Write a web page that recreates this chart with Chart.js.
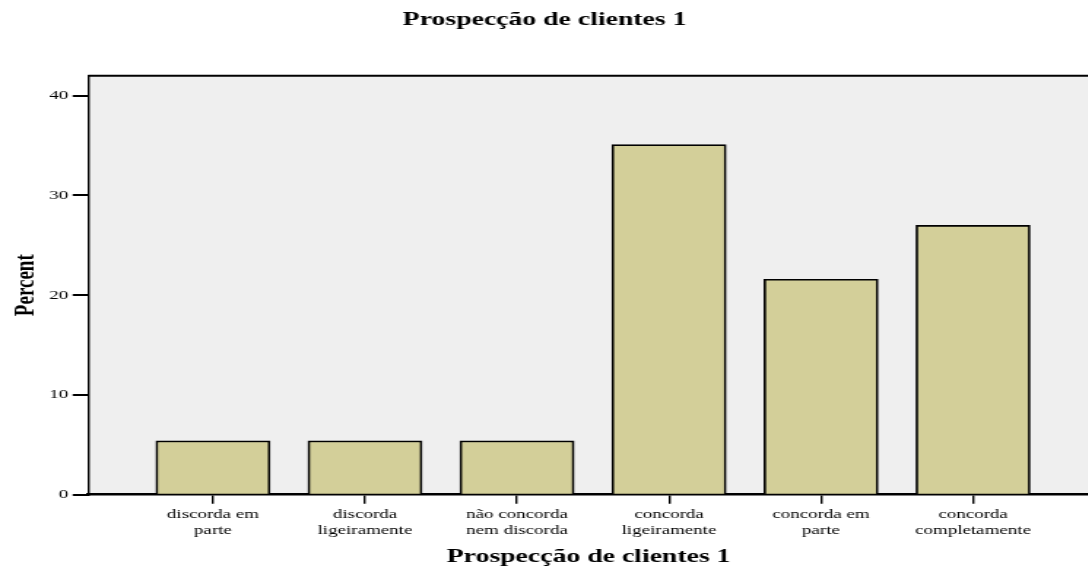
<!DOCTYPE html>
<html>
<head>
<meta charset="utf-8">
<title>Prospecção de clientes 1</title>
<script src="https://cdn.jsdelivr.net/npm/chart.js@4"></script>
<style>
  html, body { margin: 0; padding: 0; background: #fff; overflow: hidden; }
  /* the original picture is stretched sideways, so the canvas is too */
  #myChart { display: block; transform: scaleX(1.46); transform-origin: 0 0; }
</style>
</head>
<body>
<canvas id="myChart" width="746" height="567"></canvas>
<script>
const chartTitle = 'Prospecção de clientes 1';
const axisTitleX = 'Prospecção de clientes 1';
const axisTitleY = 'Percent';
const categories = [
  ['discorda em', 'parte'],
  ['discorda', 'ligeiramente'],
  ['não concorda', 'nem discorda'],
  ['concorda', 'ligeiramente'],
  ['concorda em', 'parte'],
  ['concorda', 'completamente']
];
const percentValues = [5.4, 5.4, 5.4, 35.1, 21.6, 27.0];
const yTicks = [0, 10, 20, 30, 40];

const STRETCH = 1.46; // горизонтальное растяжение картинки

// серый фон области графика и верхняя рамка
const plotFrame = {
  id: 'plotFrame',
  beforeDraw(chart) {
    const { ctx, chartArea: a } = chart;
    ctx.save();
    ctx.fillStyle = '#efefef';
    ctx.fillRect(a.left, a.top, a.right - a.left, a.bottom - a.top);
    ctx.restore();
  },
  afterDraw(chart) {
    const { ctx, chartArea: a } = chart;
    ctx.save();
    ctx.strokeStyle = '#000';
    ctx.lineWidth = 2;
    ctx.beginPath();
    ctx.moveTo(a.left, a.top);
    ctx.lineTo(a.right, a.top);
    ctx.stroke();
    ctx.restore();
  }
};

Chart.defaults.font.family = "'Liberation Serif', 'Times New Roman', serif";
Chart.defaults.color = '#000';

const ctx = document.getElementById('myChart').getContext('2d');
new Chart(ctx, {
  type: 'bar',
  data: {
    datasets: [{
      label: axisTitleY,
      data: percentValues.map((v, i) => ({ x: i, y: v })),
      backgroundColor: '#d3cf99',
      borderColor: '#000',
      borderWidth: 1.7,
      barThickness: 114 / STRETCH
    }]
  },
  options: {
    responsive: false,
    animation: false,
    devicePixelRatio: 1,
    layout: { padding: 0 },
    plugins: {
      legend: { display: false },
      tooltip: { enabled: false },
      title: {
        display: true,
        text: chartTitle,
        color: '#000',
        font: { size: 19, weight: 'bold', lineHeight: 1 },
        padding: { top: 10.8, bottom: 45.9 }
      }
    },
    scales: {
      x: {
        type: 'linear',
        min: -0.822,
        max: 5.764,
        offset: false,
        grid: { offset: false, drawOnChartArea: false, color: '#000', lineWidth: 1.4, tickLength: 9 },
        border: { color: '#000', width: 2.5 },
        afterBuildTicks: s => { s.ticks = categories.map((c, i) => ({ value: i })); },
        afterFit: s => { s.height = 567 - 494.7; },
        ticks: {
          callback: v => categories[v],
          autoSkip: false,
          maxRotation: 0,
          padding: 3,
          color: '#000',
          font: { size: 13 }
        },
        title: {
          display: true,
          text: axisTitleX,
          color: '#000',
          font: { size: 19, weight: 'bold', lineHeight: 1 },
          padding: { top: 0, bottom: 0 }
        }
      },
      y: {
        min: 0,
        max: 42,
        grid: { drawOnChartArea: false, color: '#000', lineWidth: 2, tickLength: 10.5 },
        border: { color: '#000', width: 1.4 },
        afterBuildTicks: s => { s.ticks = yTicks.map(v => ({ value: v })); },
        afterFit: s => { s.width = 88 / STRETCH; },
        ticks: { padding: 3, color: '#000', font: { size: 13 } },
        title: {
          display: true,
          text: axisTitleY,
          color: '#000',
          font: { size: 19, weight: 'bold', lineHeight: 1 },
          padding: { top: 8.8, bottom: 0 }
        }
      }
    }
  },
  plugins: [plotFrame]
});
</script>
</body>
</html>
